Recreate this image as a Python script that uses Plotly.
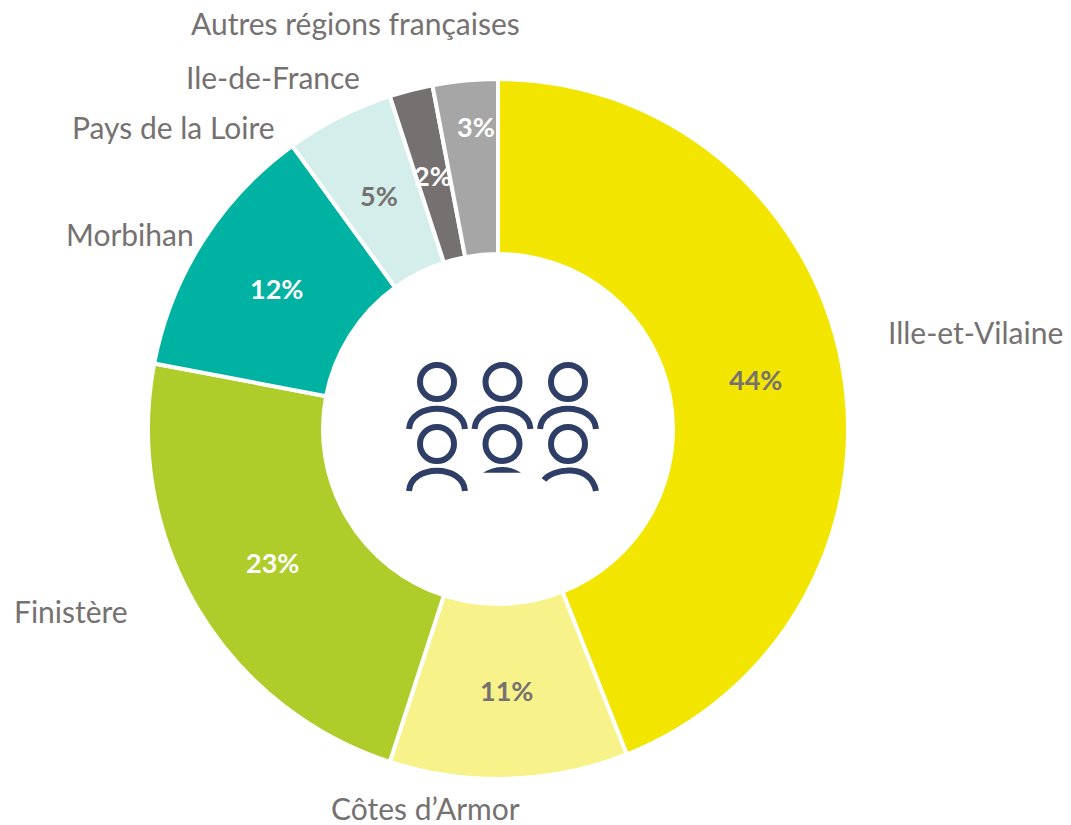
import math
import plotly.graph_objects as go

W, H = 1071, 825
categories = ["Ille-et-Vilaine", "Côtes d’Armor", "Finistère", "Morbihan",
              "Pays de la Loire", "Ile-de-France", "Autres régions françaises"]
shares = [44, 11, 23, 12, 5, 2, 3]
slice_colors = ["#F2E600", "#F7F38A", "#AECD2A", "#00B2A2", "#D4EEEB", "#767171", "#A6A6A6"]
percent_colors = ["#767171", "#767171", "#FFFFFF", "#FFFFFF", "#767171", "#FFFFFF", "#FFFFFF"]
percent_radii = [262, 262, 262, 262, 262, 262, 304]
percent_xshift = [0, 0, 0, 0, 0, 0, 7]
label_centers = [(975, 332), (425, 808), (71, 611), (130, 234), (173, 127), (273, 77), (355, 23)]

FONT = "Lato, Roboto, sans-serif"
NAVY = "#2F3E66"
CX, CY, R = 498, 429, 350


def fx(x):
    return x / W


def fy(y):
    return 1 - y / H


fig = go.Figure(go.Pie(
    labels=categories,
    values=shares,
    sort=False,
    direction="clockwise",
    rotation=0,
    hole=0.5,
    marker=dict(colors=slice_colors, line=dict(color="#FFFFFF", width=4)),
    textinfo="none",
    hoverinfo="label+percent",
    showlegend=False,
    domain=dict(x=[fx(CX - R), fx(CX + R)], y=[fy(CY + R), fy(CY - R)]),
))

annotations = [
    dict(text=name, x=fx(x), y=fy(y), xref="paper", yref="paper",
         xanchor="center", yanchor="middle", showarrow=False,
         font=dict(family=FONT, size=30, color="#767171"))
    for name, (x, y) in zip(categories, label_centers)
]

total = sum(shares)
running = 0
for value, color, radius, shift in zip(shares, percent_colors, percent_radii, percent_xshift):
    mid = (running + value / 2) / total * 2 * math.pi
    running += value
    annotations.append(dict(
        text=f"<b>{round(value / total * 100)}%</b>",
        x=fx(CX + radius * math.sin(mid)), y=fy(CY - radius * math.cos(mid)), xshift=shift,
        xref="paper", yref="paper", xanchor="center", yanchor="middle", showarrow=False,
        font=dict(family=FONT, size=27, color=color)))

shapes = []


def path(d_points, closed=False, fill=None):
    cmds = []
    for cmd, pts in d_points:
        cmds.append(cmd + " ".join(f"{fx(x):.5f},{fy(y):.5f}" for x, y in pts))
    d = " ".join(cmds) + (" Z" if closed else "")
    shape = dict(type="path", path=d, xref="paper", yref="paper", layer="above")
    if fill:
        shape.update(fillcolor=fill, line=dict(width=0))
    else:
        shape.update(line=dict(color=NAVY, width=6))
    shapes.append(shape)


for hx in (437, 502.5, 568):
    for hy in (382, 444):
        shapes.append(dict(type="circle", xref="paper", yref="paper", layer="above",
                           x0=fx(hx - 17), x1=fx(hx + 17), y0=fy(hy + 17), y1=fy(hy - 17),
                           line=dict(color=NAVY, width=6)))
for hx in (437, 502.5, 568):
    path([("M", [(hx - 28, 429)]),
          ("C", [(hx - 26, 402), (hx + 26, 402), (hx + 28, 429)])])
path([("M", [(409, 491)]), ("C", [(411, 464), (463, 464), (465, 491)])])
path([("M", [(544, 480)]), ("C", [(552, 469), (590, 462), (596, 491)])])
path([("M", [(483, 472.7)]), ("C", [(495, 465), (510, 465), (521, 472.7)]),
      ("L", [(483, 472.7)])], closed=True, fill=NAVY)

fig.update_layout(
    width=W, height=H,
    margin=dict(l=0, r=0, t=0, b=0),
    paper_bgcolor="#FFFFFF",
    annotations=annotations,
    shapes=shapes,
)
fig.write_html("out.html", config={"displayModeBar": False},
               post_script="document.body.style.margin='0';document.body.style.overflow='hidden';")
